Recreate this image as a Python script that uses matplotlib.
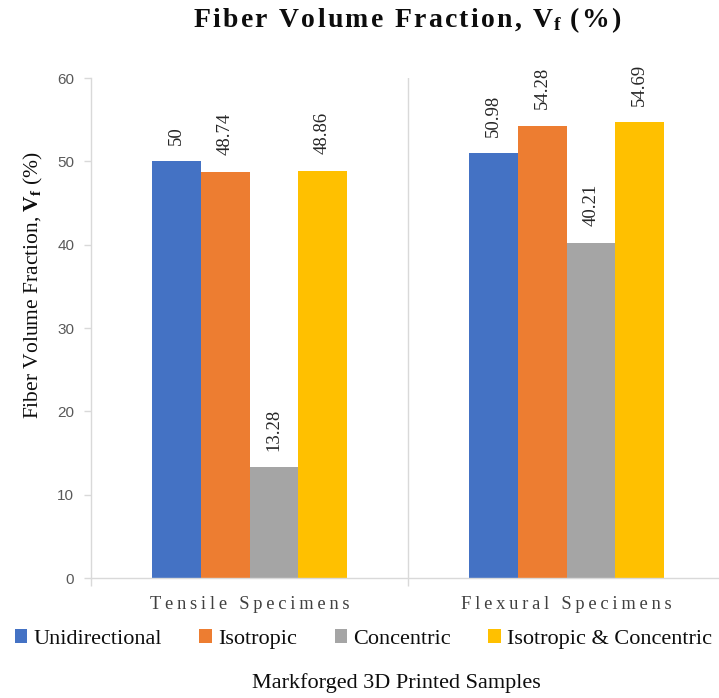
import numpy as np
import matplotlib
matplotlib.use("Agg")
import matplotlib.pyplot as plt
from matplotlib.font_manager import FontProperties

# ---- data -------------------------------------------------------------
groups = ["Tensile Specimens", "Flexural Specimens"]
series = ["Unidirectional", "Isotropic", "Concentric", "Isotropic & Concentric"]
unidirectional = [50.00, 50.98]
isotropic = [48.74, 54.28]
concentric = [13.28, 40.21]
iso_concentric = [48.86, 54.69]
yticks = [0, 10, 20, 30, 40, 50, 60]

colors = ["#4472C4", "#ED7D31", "#A5A5A5", "#FFC000"]
grid_grey = "#D9D9D9"
THIN = "\u2009"
HAIR = "\u200a"


def spaced(s, gap=THIN):
    return gap.join(s)


plt.rcParams["mathtext.fontset"] = "custom"
plt.rcParams["mathtext.rm"] = "Liberation Serif"
plt.rcParams["mathtext.bf"] = "Liberation Serif:bold"
plt.rcParams["mathtext.it"] = "Liberation Serif:italic"

serif = ["Liberation Serif", "DejaVu Serif"]

W, H, DPI = 719, 698, 100
fig = plt.figure(figsize=(W / DPI, H / DPI), dpi=DPI)
ax = fig.add_axes([91 / W, 1 - 578 / H, 634 / W, 500 / H])

x = np.arange(len(groups))
width = 0.153
all_series = [unidirectional, isotropic, concentric, iso_concentric]
containers = []
for i, (name, vals) in enumerate(zip(series, all_series)):
    bc = ax.bar(x + (i - 1.5) * width, vals, width, color=colors[i], label=name,
                zorder=2)
    containers.append(bc)
    ax.bar_label(bc, labels=[f"{v:g}" for v in vals], rotation=90, padding=12,
                 fontsize=13.5, family=serif, color="#262626")

ax.set_xlim(-0.5, 1.5)
ax.set_ylim(0, 60)
ax.set_yticks(yticks)
ax.tick_params(axis="y", length=5, color=grid_grey, width=1, pad=7,
               labelsize=11, labelcolor="#595959")
for lbl in ax.get_yticklabels():
    lbl.set_family(["Liberation Sans", "DejaVu Sans"])

ax.set_xticks(x, labels=[spaced(g) for g in groups])
ax.tick_params(axis="x", which="major", length=0, pad=13, labelsize=13.3,
               labelcolor="#404040")
for lbl in ax.get_xticklabels():
    lbl.set_family(serif)
ax.set_xticks([-0.5, 0.5, 1.5], minor=True)
ax.tick_params(axis="x", which="minor", length=6, color=grid_grey, width=1)

# category separator
ax.axvline(0.5, color=grid_grey, lw=1, zorder=1)

for side in ("top", "right"):
    ax.spines[side].set_visible(False)
for side in ("left", "bottom"):
    ax.spines[side].set_color(grid_grey)
    ax.spines[side].set_linewidth(1)

# axis titles
ax.set_ylabel(r"Fiber Volume Fraction, $\mathbf{V_f}$ (%)", fontsize=15.5,
              family=serif, color="#0D0D0D")
ax.yaxis.set_label_coords((33 - 91) / 634, (578 - 285) / 500)
ax.yaxis.label.set_verticalalignment("center")

ax.set_xlabel("Markforged 3D Printed Samples", fontsize=16, family=serif,
              color="#0D0D0D")
ax.xaxis.set_label_coords((396 - 91) / 634, (578 - 683) / 500)
ax.xaxis.label.set_verticalalignment("center")

# title
title = (spaced("Fiber Volume Fraction, V", HAIR) + r"$_{\mathbf{f}}$" + HAIR
         + " " + spaced("(%)", HAIR))
fig.text(407 / W, 1 - 27 / H, title, ha="center", va="baseline", fontsize=20,
         fontweight="bold", family=serif, color="#0D0D0D")

# legend
fig.legend(handles=containers, labels=series, loc="center",
           bbox_to_anchor=(363.5 / W, 1 - 639 / H), ncol=4, frameon=False,
           handlelength=0.55, handleheight=0.55, handletextpad=0.3,
           columnspacing=1.68, prop=FontProperties(family=serif, size=16),
           labelcolor="#0D0D0D")

fig.savefig("out.png", dpi=DPI)
